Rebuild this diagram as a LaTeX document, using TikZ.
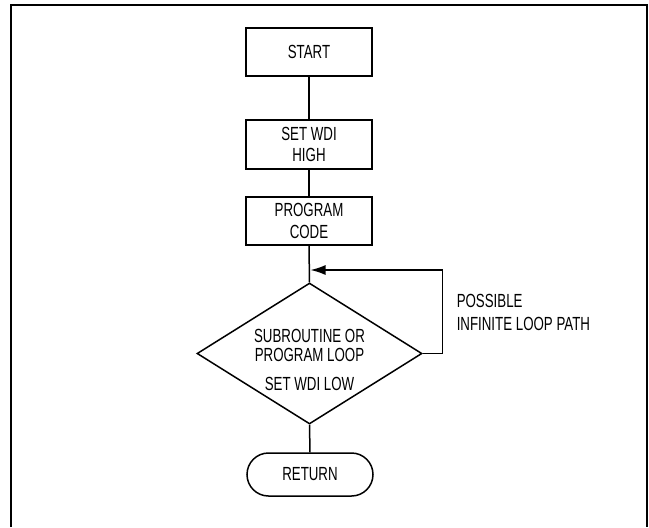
\documentclass[tikz,border=0pt]{standalone}
\usepackage{fontspec}
\setmainfont{Liberation Sans}[FakeStretch=0.7]
\usetikzlibrary{shapes.geometric,arrows.meta}

\begin{document}
\begin{tikzpicture}[x=0.5pt, y=-0.5pt, line width=0.75pt,
    font=\fontsize{9.5}{10.75}\selectfont,
    procbox/.style={rectangle, draw, minimum width=63pt, align=center},
    endcap/.style={rectangle, draw, rounded corners=10.75pt, minimum width=63pt, minimum height=21.5pt}]
    \useasboundingbox (0,0) rectangle (649,527);

    % Frame
    \draw[line width=1pt] (11,527) -- (11,5) -- (647,5) -- (647,527);

    % Boxes
    \node[procbox, minimum height=24pt] (start) at (309,52) {START};
    \node[procbox, minimum height=24.5pt] (wdihigh) at (309,144.5) {SET WDI\\HIGH};
    \node[procbox, minimum height=24pt] (code) at (309,221) {PROGRAM\\CODE};

    % Decision
    \node[diamond, draw, minimum width=112.5pt, minimum height=70.5pt, inner sep=0pt] (loopdec) at (309.5,353.5) {};
    \node[align=center, inner sep=0pt, font=\fontsize{9.5}{9.25}\selectfont] (looptext) at (309.5,360)
        {SUBROUTINE OR\\PROGRAM LOOP\\[5.25pt]SET WDI LOW};

    % End
    \node[endcap] (ret) at (310,474.5) {RETURN};

    % Connections
    \draw (start) -- (wdihigh);
    \draw (wdihigh) -- (code);
    \draw (code.south) -- (loopdec.north);
    \draw (loopdec.south) -- (ret.north);

    % Loop back
    \coordinate (loopjoin) at (310.5,270);
    \draw[-{Latex[length=7.5pt,width=5pt]}] (loopdec.east) -- ++(19.5,0) |- (loopjoin);
    \node[anchor=west, align=left, inner sep=0pt, font=\fontsize{9.5}{11.5}\selectfont] (looplabel) at (456,312.5)
        {POSSIBLE\\INFINITE LOOP PATH};
\end{tikzpicture}
\end{document}
